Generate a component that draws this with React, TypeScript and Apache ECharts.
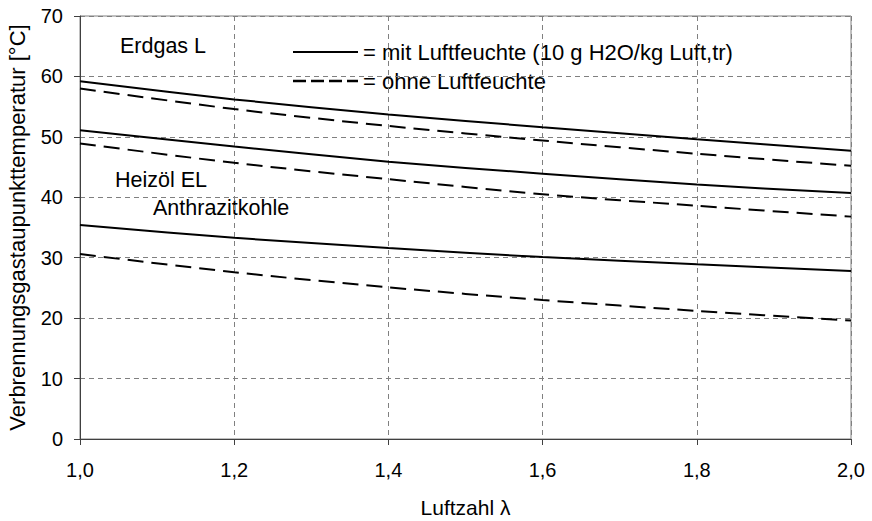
import React, { useEffect, useRef } from 'react';
import * as echarts from 'echarts';

// Luftzahl λ
const lambdaValues = [1.0, 1.2, 1.4, 1.6, 1.8, 2.0];

// Taupunkttemperatur [°C]
const erdgasMit = [59.2, 56.2, 53.7, 51.6, 49.6, 47.7];
const erdgasOhne = [58.0, 54.6, 51.8, 49.4, 47.2, 45.2];
const heizoelMit = [51.1, 48.4, 45.9, 43.9, 42.1, 40.7];
const heizoelOhne = [48.9, 45.7, 43.0, 40.5, 38.6, 36.8];
const anthrazitMit = [35.4, 33.3, 31.6, 30.1, 28.9, 27.8];
const anthrazitOhne = [30.6, 27.6, 25.1, 23.0, 21.2, 19.6];

const FONT = '"Liberation Sans", Arial, sans-serif';
const LABEL_FONT = `21.5px ${FONT}`;
const LEGEND_FONT = `22px ${FONT}`;

const toPairs = (vals: number[]) => lambdaValues.map((x, i) => [x, vals[i]]);

const curve = (name: string, vals: number[], dashed: boolean) => ({
  name,
  type: 'line',
  data: toPairs(vals),
  smooth: 0.3,
  showSymbol: false,
  lineStyle: {
    color: '#000',
    width: 2,
    type: dashed ? [16, 8] : 'solid',
  },
});

const App: React.FC = () => {
  const chartRef = useRef<HTMLDivElement>(null);

  useEffect(() => {
    document.body.style.margin = '0';
    if (!chartRef.current) return;
    const chart = echarts.init(chartRef.current, null, { renderer: 'svg' });

    const option = {
      animation: false,
      backgroundColor: '#fff',
      textStyle: { fontFamily: FONT },
      grid: {
        left: 80,
        top: 16,
        right: 21,
        bottom: 82,
        containLabel: false,
        outerBoundsMode: 'none',
        show: true,
        borderColor: '#808080',
        borderWidth: 1,
      },
      xAxis: {
        type: 'value',
        min: 1,
        max: 2,
        interval: 0.2,
        name: 'Luftzahl λ',
        nameLocation: 'middle',
        nameGap: 58,
        nameTextStyle: { fontSize: 21, color: '#000', fontFamily: FONT },
        axisLine: { lineStyle: { color: '#404040', width: 1 } },
        axisTick: { show: true, length: 6, lineStyle: { color: '#404040' } },
        axisLabel: {
          fontSize: 20,
          color: '#000',
          margin: 21,
          fontFamily: FONT,
          formatter: (v: number) => v.toFixed(1).replace('.', ','),
        },
        splitLine: {
          show: true,
          lineStyle: { color: '#808080', type: [5, 4], width: 1 },
        },
      },
      yAxis: {
        type: 'value',
        min: 0,
        max: 70,
        interval: 10,
        name: 'Verbrennungsgastaupunkttemperatur [°C]',
        nameLocation: 'middle',
        nameGap: 52,
        nameTextStyle: { fontSize: 22, color: '#000', fontFamily: FONT },
        axisLine: { show: true, lineStyle: { color: '#404040', width: 1 } },
        axisTick: { show: true, length: 6, lineStyle: { color: '#404040' } },
        axisLabel: { fontSize: 20, color: '#000', margin: 17, fontFamily: FONT },
        splitLine: {
          show: true,
          lineStyle: { color: '#808080', type: [5, 4], width: 1 },
        },
      },
      series: [
        curve('Erdgas L mit', erdgasMit, false),
        curve('Erdgas L ohne', erdgasOhne, true),
        curve('Heizöl EL mit', heizoelMit, false),
        curve('Heizöl EL ohne', heizoelOhne, true),
        curve('Anthrazitkohle mit', anthrazitMit, false),
        curve('Anthrazitkohle ohne', anthrazitOhne, true),
      ],
      graphic: [
        {
          type: 'line',
          shape: { x1: 293, y1: 52, x2: 358, y2: 52 },
          style: { stroke: '#000', lineWidth: 2 },
        },
        {
          type: 'text',
          x: 363,
          y: 52,
          style: {
            text: '= mit Luftfeuchte (10 g H2O/kg Luft,tr)',
            font: LEGEND_FONT,
            fill: '#000',
            verticalAlign: 'middle',
          },
        },
        {
          type: 'line',
          shape: { x1: 293, y1: 81, x2: 358, y2: 81 },
          style: { stroke: '#000', lineWidth: 2.5, lineDash: [13, 5] },
        },
        {
          type: 'text',
          x: 363,
          y: 81,
          style: {
            text: '= ohne Luftfeuchte',
            font: LEGEND_FONT,
            fill: '#000',
            verticalAlign: 'middle',
          },
        },
        {
          type: 'text',
          x: 120,
          y: 46,
          style: { text: 'Erdgas L', font: LABEL_FONT, fill: '#000', verticalAlign: 'middle' },
        },
        {
          type: 'text',
          x: 115,
          y: 180,
          style: { text: 'Heizöl EL', font: LABEL_FONT, fill: '#000', verticalAlign: 'middle' },
        },
        {
          type: 'text',
          x: 153,
          y: 208,
          style: { text: 'Anthrazitkohle', font: LABEL_FONT, fill: '#000', verticalAlign: 'middle' },
        },
      ],
    };

    chart.setOption(option);
    return () => {
      chart.dispose();
    };
  }, []);

  return <div ref={chartRef} style={{ width: '872px', height: '521px' }} />;
};

export default App;
